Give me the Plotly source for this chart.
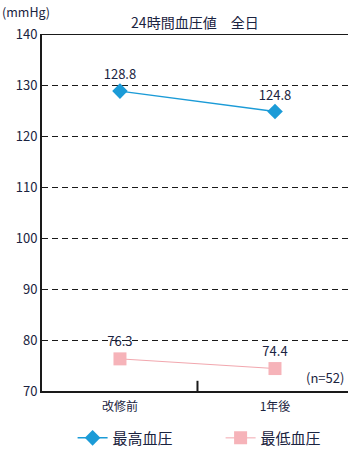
import plotly.graph_objects as go

categories = ["改修前", "1年後"]
systolic = [128.8, 124.8]
diastolic = [76.3, 74.4]
systolic_labels = ["128.8", "124.8"]
diastolic_labels = ["76.3", "74.4"]
y_ticks = [70, 80, 90, 100, 110, 120, 130, 140]

FONT = "Noto Sans CJK JP"
TXT = "#1a2340"
x_pos = list(range(len(categories)))

fig = go.Figure()
fig.add_trace(go.Scatter(
    x=x_pos, y=systolic, mode="lines+markers+text", name="最高血圧",
    text=systolic_labels, textposition="top center",
    textfont=dict(size=13, color=TXT, family=FONT),
    line=dict(color="#1b9bd7", width=1.5),
    marker=dict(symbol="diamond", size=12, color="#1b9bd7"),
))
fig.add_trace(go.Scatter(
    x=x_pos, y=diastolic, mode="lines+markers+text", name="最低血圧",
    text=diastolic_labels, textposition="top center",
    textfont=dict(size=13, color=TXT, family=FONT),
    line=dict(color="#f2a7ae", width=1),
    marker=dict(symbol="square", size=13, color="#f6b3b9"),
))

fig.add_shape(type="line", xref="paper", yref="y", x0=0, x1=1, y0=140, y1=140,
              line=dict(color="#1a1a1a", width=2))
fig.add_shape(type="line", xref="x", yref="y", x0=0.5, x1=0.5, y0=70, y1=72,
              line=dict(color="#1a1a1a", width=2))

fig.add_annotation(text="(n=52)", xref="paper", yref="y", x=0.995, y=72.6,
                   xanchor="right", showarrow=False,
                   font=dict(size=13, color=TXT, family=FONT))
fig.add_annotation(text="(mmHg)", xref="paper", yref="paper", x=-0.137, y=1.062,
                   xanchor="left", yanchor="middle", showarrow=False,
                   font=dict(size=12.5, color=TXT, family=FONT))

fig.update_layout(
    width=348, height=452,
    margin=dict(l=42, r=0, t=34, b=61, autoexpand=False),
    paper_bgcolor="white", plot_bgcolor="white",
    title=dict(text="24時間血圧値　全日", x=0.56, xanchor="center", y=0.95,
               yanchor="middle", font=dict(size=14, color=TXT, family=FONT)),
    font=dict(family=FONT, color=TXT),
    showlegend=True,
    legend=dict(orientation="h", x=0.1, xanchor="left", y=-0.132, yanchor="middle",
                font=dict(size=15, family=FONT, color=TXT),
                itemwidth=30, traceorder="normal", entrywidth=103),
    xaxis=dict(range=[-0.503, 1.471], tickvals=x_pos, ticktext=categories,
               showgrid=False, zeroline=False, showline=True,
               linecolor="#1a1a1a", linewidth=2, ticks="", ticklabelstandoff=4,
               tickfont=dict(size=12, color=TXT, family=FONT)),
    yaxis=dict(range=[70, 140], tickvals=y_ticks, showgrid=True,
               gridcolor="#1a1a1a", griddash="6px,4px", gridwidth=1.2,
               zeroline=False, showline=True, linecolor="#1a1a1a", linewidth=2,
               ticks="", tickfont=dict(size=13, color=TXT, family=FONT)),
)

fig.write_html("out.html", config={"displayModeBar": False},
               post_script="document.body.style.margin='0';document.body.style.overflow='hidden';")
